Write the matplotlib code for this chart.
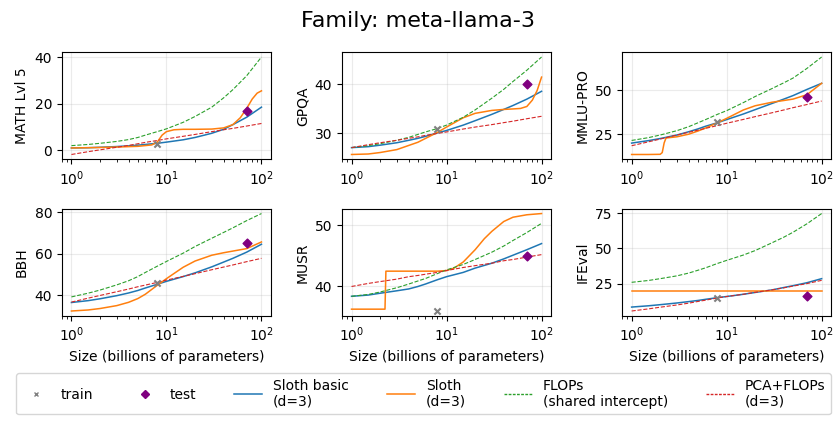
import matplotlib
matplotlib.use("Agg")
import matplotlib.pyplot as plt
from matplotlib.lines import Line2D

# model sizes used for the smooth fitted curves (billions of params)
sizes = [1, 1.5, 2, 3, 4, 5, 6, 8, 10, 15, 20, 30, 40, 50, 70, 100]

benchmarks = ["MATH Lvl 5", "GPQA", "MMLU-PRO", "BBH", "MUSR", "IFEval"]
train_x = 8
test_x = 70
train_y = [2.8, 30.9, 32.2, 45.9, 36.0, 15.1]
test_y = [17.0, 40.0, 46.4, 65.1, 45.0, 16.1]

# Sloth basic (d=3)
basic_math = [1.0, 1.1, 1.3, 1.6, 1.9, 2.2, 2.5, 3.0, 3.5, 4.5, 5.5, 7.3, 9.0, 11.0, 14.2, 18.5]
basic_gpqa = [27.1, 27.3, 27.6, 28.1, 28.6, 29.0, 29.4, 30.1, 30.6, 31.7, 32.6, 33.9, 34.9, 35.7, 37.0, 38.6]
basic_mmlu = [19.9, 21.3, 22.5, 24.5, 26.4, 28.0, 29.5, 31.5, 33.3, 36.5, 39.0, 42.5, 45.0, 47.0, 50.5, 54.0]
basic_bbh = [36.5, 37.4, 38.3, 39.8, 41.1, 42.3, 43.5, 45.3, 46.7, 49.0, 50.8, 53.7, 56.0, 57.8, 60.8, 64.6]
basic_musr = [38.4, 38.6, 38.9, 39.3, 39.6, 40.0, 40.4, 41.1, 41.6, 42.3, 43.0, 43.8, 44.5, 45.1, 46.0, 47.0]
basic_ifeval = [8.3, 9.2, 10.0, 11.2, 12.2, 13.0, 13.8, 15.0, 15.8, 17.4, 18.7, 20.5, 22.2, 23.5, 25.6, 28.5]

# FLOPs (shared intercept)
flops_math = [2.0, 2.5, 3.0, 3.8, 4.6, 5.5, 6.5, 8.0, 9.2, 12.0, 14.5, 18.5, 22.5, 26.0, 32.0, 40.0]
flops_gpqa = [27.1, 27.5, 27.9, 28.6, 29.2, 29.8, 30.3, 31.0, 31.7, 33.3, 34.8, 37.2, 39.0, 40.6, 42.9, 45.6]
flops_mmlu = [21.4, 23.0, 24.5, 27.0, 29.3, 31.5, 33.3, 36.3, 38.4, 43.0, 46.5, 51.0, 54.3, 57.0, 62.5, 69.0]
flops_bbh = [39.2, 41.0, 42.5, 45.0, 47.0, 49.0, 51.0, 54.0, 56.3, 60.3, 63.5, 67.5, 70.3, 72.5, 76.0, 79.4]
flops_musr = [38.4, 38.7, 39.1, 39.8, 40.4, 40.9, 41.3, 42.1, 42.7, 43.6, 44.4, 45.6, 46.6, 47.5, 48.8, 50.3]
flops_ifeval = [25.9, 27.2, 28.5, 30.5, 32.5, 34.5, 36.2, 39.3, 41.5, 45.3, 48.5, 54.0, 58.0, 61.5, 67.5, 74.8]

# PCA+FLOPs (d=3)
pca_math = [-1.8, -0.6, 0.2, 1.3, 2.1, 2.8, 3.4, 4.2, 4.9, 6.0, 6.8, 8.0, 8.8, 9.4, 10.4, 11.5]
pca_gpqa = [27.1, 27.7, 28.1, 28.6, 29.0, 29.3, 29.6, 30.0, 30.3, 30.9, 31.3, 31.8, 32.2, 32.5, 33.0, 33.5]
pca_mmlu = [18.4, 20.6, 22.2, 24.5, 26.1, 27.3, 28.3, 29.9, 31.2, 33.4, 35.0, 37.2, 38.8, 40.1, 41.9, 43.9]
pca_bbh = [36.7, 38.6, 39.9, 41.7, 43.0, 44.1, 44.9, 46.2, 47.3, 49.1, 50.4, 52.3, 53.6, 54.6, 56.2, 57.8]
pca_musr = [40.0, 40.5, 40.8, 41.2, 41.6, 41.8, 42.0, 42.3, 42.6, 43.1, 43.4, 43.8, 44.2, 44.4, 44.8, 45.2]
pca_ifeval = [5.5, 7.0, 8.2, 9.8, 11.1, 12.3, 13.2, 14.8, 15.8, 17.4, 18.8, 20.5, 22.0, 23.2, 25.0, 27.3]

# Sloth (d=3) - has steps, so each one gets its own sizes
sloth_math_x = [1, 2, 3, 5, 7, 8, 9, 10, 12, 15, 20, 30, 40, 50, 60, 70, 80, 90, 100]
sloth_math = [1.0, 1.2, 1.4, 1.7, 2.3, 3.5, 6.5, 8.0, 8.8, 9.0, 9.0, 9.1, 9.6, 11.0, 14.0, 18.0, 22.0, 24.5, 25.5]
sloth_gpqa_x = [1, 1.5, 2, 3, 5, 8, 10, 15, 20, 30, 40, 50, 60, 70, 80, 90, 100]
sloth_gpqa = [25.7, 25.8, 26.1, 26.7, 28.2, 30.2, 31.3, 33.2, 34.1, 34.7, 34.9, 35.0, 35.1, 35.5, 36.8, 38.8, 41.5]
sloth_mmlu_x = [1, 1.5, 2.0, 2.1, 2.2, 2.3, 3, 4, 5, 6, 8, 10, 15, 20, 30, 40, 50, 70, 100]
sloth_mmlu = [13.4, 13.4, 13.5, 14.5, 20.0, 22.8, 23.5, 25.0, 26.8, 28.5, 31.5, 34.0, 38.8, 41.2, 43.2, 44.2, 45.0, 47.5, 54.0]
sloth_bbh_x = [1, 1.5, 2, 3, 4, 5, 6, 8, 10, 15, 20, 30, 40, 50, 70, 100]
sloth_bbh = [32.4, 32.9, 33.6, 35.0, 36.6, 38.4, 40.5, 44.8, 48.0, 53.5, 56.5, 59.3, 60.5, 61.3, 62.5, 65.7]
sloth_musr_x = [1, 2, 2.25, 2.3, 3, 5, 8, 10, 12, 15, 20, 25, 30, 40, 50, 70, 100]
sloth_musr = [36.3, 36.3, 36.3, 42.5, 42.5, 42.5, 42.5, 42.6, 43.0, 44.0, 46.0, 47.8, 49.0, 50.6, 51.3, 51.7, 51.9]
sloth_ifeval_x = [1, 100]
sloth_ifeval = [19.6, 19.6]

basic_all = [basic_math, basic_gpqa, basic_mmlu, basic_bbh, basic_musr, basic_ifeval]
flops_all = [flops_math, flops_gpqa, flops_mmlu, flops_bbh, flops_musr, flops_ifeval]
pca_all = [pca_math, pca_gpqa, pca_mmlu, pca_bbh, pca_musr, pca_ifeval]
sloth_all = [(sloth_math_x, sloth_math), (sloth_gpqa_x, sloth_gpqa), (sloth_mmlu_x, sloth_mmlu),
             (sloth_bbh_x, sloth_bbh), (sloth_musr_x, sloth_musr), (sloth_ifeval_x, sloth_ifeval)]

fig, axes = plt.subplots(2, 3, figsize=(8.37, 4.24), dpi=100)
fig.subplots_adjust(left=0.074, right=0.993, top=0.877, bottom=0.255, wspace=0.34, hspace=0.46)

for i, ax in enumerate(axes.flat):
    ax.plot(sizes, basic_all[i], color="C0", lw=1.1)
    sx, sy = sloth_all[i]
    ax.plot(sx, sy, color="C1", lw=1.1)
    ax.plot(sizes, flops_all[i], color="C2", lw=0.8, ls="--")
    ax.plot(sizes, pca_all[i], color="C3", lw=0.8, ls="--")
    ax.scatter([train_x], [train_y[i]], marker="x", color="gray", s=20, zorder=3)
    ax.scatter([test_x], [test_y[i]], marker="D", color="purple", s=20, zorder=3)
    ax.set_xscale("log")
    ax.set_ylabel(benchmarks[i])
    ax.grid(True, alpha=0.25)
    if i >= 3:
        ax.set_xlabel("Size (billions of parameters)")

fig.suptitle("Family: meta-llama-3", fontsize=16, y=0.975)

handles = [
    Line2D([], [], marker="x", color="gray", ls="none", markersize=3.5),
    Line2D([], [], marker="D", color="purple", ls="none", markersize=4),
    Line2D([], [], color="C0", lw=1.1),
    Line2D([], [], color="C1", lw=1.1),
    Line2D([], [], color="tab:green", lw=1, ls="--", dashes=(2, 1)),
    Line2D([], [], color="tab:red", lw=1, ls="--", dashes=(2, 1)),
]
labels = ["train", "test", "Sloth basic\n(d=3)", "Sloth\n(d=3)", "FLOPs\n(shared intercept)", "PCA+FLOPs\n(d=3)"]
fig.legend(handles, labels, loc="lower left", ncol=6, mode="expand", borderaxespad=0.2,
           bbox_to_anchor=(0.016, 0.016, 0.98, 0.09), fontsize=10)

plt.savefig("out.png")
